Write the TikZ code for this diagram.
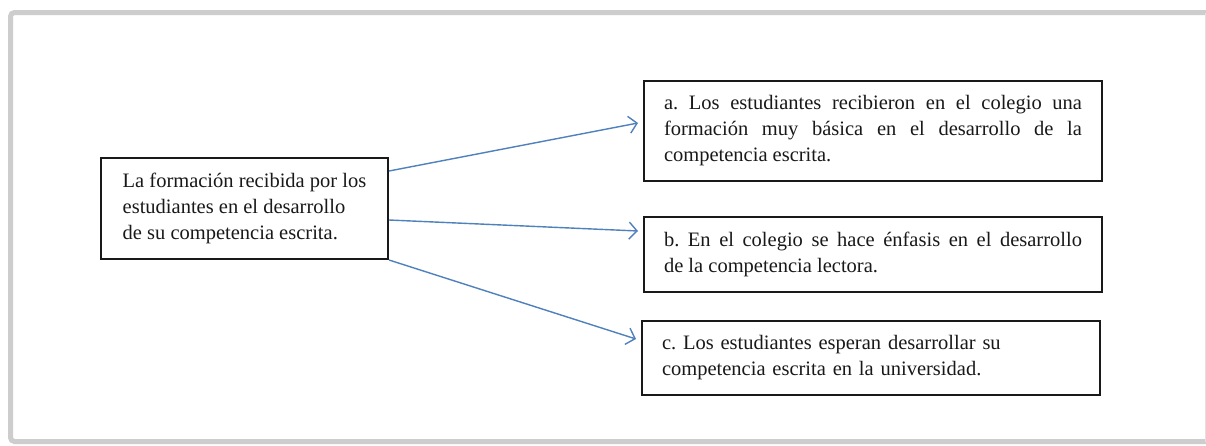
\documentclass[tikz,border=0pt]{standalone}
\usepackage{fontspec}
\setmainfont{Liberation Serif}
\usetikzlibrary{arrows.meta}
\definecolor{arrowblue}{RGB}{79,129,189}
\definecolor{framegray}{RGB}{205,205,205}
\setlength{\parindent}{0pt}
\frenchspacing
\begin{document}
\begin{tikzpicture}[x=1pt,y=-1pt,
  box/.style={draw=black!90, line width=2pt, fill=white, anchor=north west,
    inner xsep=20pt, inner ysep=0pt, font=\fontsize{20.5}{26}\selectfont,
    text=black!90},
  conn/.style={draw=arrowblue, line width=1.4pt,
    -{Straight Barb[length=8pt,width=17pt]}}]
\useasboundingbox (0,0) rectangle (1206,445);
\fill[white] (0,0) rectangle (1206,445);
\draw[framegray, line width=5pt, rounded corners=4pt]
  (1212,12.5) -- (10.5,12.5) -- (10.5,441.5) -- (1212,441.5);
\draw[framegray!60, line width=1pt] (1205,12.5) -- (1205,441.5);

\node[box, align=left, minimum width=287pt, minimum height=101pt] (L) at (100,157)
  {La formación recibida por los\\estudiantes en el desarrollo\\de su competencia escrita.};
\node[box, align=justify, text width=418pt, minimum height=100pt] (A) at (643,80)
  {a. Los estudiantes recibieron en el colegio una\linebreak
   formación muy básica en el desarrollo de la\linebreak
   competencia escrita.};
\node[box, align=justify, text width=418pt, minimum height=75pt] (B) at (643,216)
  {b. En el colegio se hace énfasis en el desarrollo\linebreak
   de la competencia lectora.};
\node[box, align=left, text width=418pt, minimum height=74pt] (C) at (641,320)
  {c. Los estudiantes esperan desarrollar su\\competencia escrita en la universidad.};

\draw[conn] ([yshift=37.5pt]L.east) -- ([xshift=-5pt,yshift=8pt]A.west);
\draw[conn] ([yshift=-11.5pt]L.east) -- ([xshift=-5pt,yshift=23.5pt]B.west);
\draw[conn] (L.south east) -- ([xshift=-5pt,yshift=19pt]C.west);
\end{tikzpicture}
\end{document}
